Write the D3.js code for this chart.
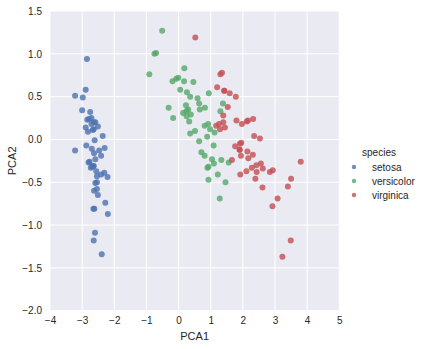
<!DOCTYPE html>
<html>
<head>
<meta charset="utf-8">
<script src="https://cdn.jsdelivr.net/npm/d3@7"></script>
<style>
  html, body { margin: 0; padding: 0; background: #fff; }
  svg { display: block; font-family: "Liberation Sans", Arial, sans-serif; }
</style>
</head>
<body>
<svg id="chart" width="424" height="349"></svg>
<script>
// Iris projected onto its first two principal components.
const species = ["setosa", "versicolor", "virginica"];
const colors = ["#4C72B0", "#55A868", "#C44E52"];

const setosaPCA1 = [-2.68,-2.71,-2.89,-2.75,-2.73,-2.28,-2.82,-2.63,-2.89,-2.67,-2.51,-2.61,-2.79,-3.22,-2.64,-2.39,-2.62,-2.65,-2.20,-2.59,-2.31,-2.54,-3.22,-2.30,-2.36,-2.51,-2.47,-2.56,-2.64,-2.63,-2.59,-2.41,-2.65,-2.60,-2.64,-2.87,-2.63,-2.80,-2.98,-2.59,-2.77,-2.85,-3.00,-2.41,-2.21,-2.71,-2.54,-2.84,-2.54,-2.70];
const setosaPCA2 = [-0.32,0.18,0.14,0.32,-0.33,-0.74,0.09,-0.16,0.58,0.11,-0.65,-0.01,0.24,0.51,-1.18,-1.34,-0.81,-0.31,-0.87,-0.51,-0.39,-0.43,-0.13,-0.10,0.04,0.15,-0.13,-0.37,-0.31,0.20,0.20,-0.41,-0.81,-1.09,0.12,-0.07,-0.60,-0.27,0.49,-0.23,-0.26,0.94,0.34,-0.19,-0.44,0.25,-0.50,0.23,-0.58,-0.11];

const versicolorPCA1 = [1.28,0.93,1.46,0.18,1.09,0.64,1.10,-0.75,1.04,-0.01,-0.51,0.51,0.26,0.98,-0.17,0.93,0.66,0.24,0.94,0.05,1.12,0.36,1.30,0.92,0.71,0.90,1.33,1.56,0.81,-0.31,-0.07,-0.19,0.14,1.38,0.59,0.81,1.22,0.82,0.25,0.17,0.46,0.89,0.23,-0.70,0.36,0.33,0.38,0.64,-0.91,0.30];
const versicolorPCA2 = [-0.69,-0.32,-0.50,0.83,-0.07,0.42,-0.28,1.00,-0.23,0.72,1.27,0.10,0.55,0.12,0.25,-0.47,0.35,0.33,0.54,0.58,0.08,0.07,0.33,0.18,-0.15,-0.33,-0.24,-0.27,0.16,0.37,0.71,0.68,0.31,0.42,0.48,-0.19,-0.41,0.37,0.27,0.68,0.67,0.03,0.40,1.01,0.50,0.21,0.29,-0.02,0.76,0.35];

const virginicaPCA1 = [2.53,1.42,2.62,1.97,2.35,3.40,0.52,2.93,2.32,2.92,1.66,1.80,2.17,1.35,1.59,1.90,1.95,3.49,3.80,1.30,2.43,1.20,3.50,1.39,2.28,2.61,1.26,1.29,2.12,2.39,2.84,3.23,2.16,1.44,1.78,3.08,2.14,1.91,1.17,2.11,2.31,1.92,1.42,2.56,2.42,1.94,1.53,1.76,1.90,1.39];
const virginicaPCA2 = [0.01,0.57,-0.34,0.18,0.04,-0.55,1.19,-0.36,0.24,-0.78,-0.24,0.22,-0.22,0.78,0.54,-0.12,-0.04,-1.18,-0.26,0.76,-0.38,0.61,-0.46,0.20,-0.33,-0.56,0.18,0.12,0.21,-0.46,-0.38,-1.37,0.22,0.14,0.50,-0.69,-0.14,-0.05,0.16,-0.37,-0.18,-0.41,0.57,-0.28,-0.30,-0.19,0.38,-0.08,-0.12,0.28];

const xTicks = [-4, -3, -2, -1, 0, 1, 2, 3, 4, 5];
const yTicks = [-2.0, -1.5, -1.0, -0.5, 0.0, 0.5, 1.0, 1.5];

const groups = [
  { name: species[0], color: colors[0], xs: setosaPCA1, ys: setosaPCA2 },
  { name: species[1], color: colors[1], xs: versicolorPCA1, ys: versicolorPCA2 },
  { name: species[2], color: colors[2], xs: virginicaPCA1, ys: virginicaPCA2 }
];

const svg = d3.select("#chart");
const plot = { left: 50, top: 11, right: 339.3, bottom: 310.7 };

const x = d3.scaleLinear().domain([-4, 5]).range([plot.left, plot.right]);
const y = d3.scaleLinear().domain([-2, 1.5]).range([plot.bottom, plot.top]);

// Axes background
svg.append("rect")
  .attr("x", plot.left).attr("y", plot.top)
  .attr("width", plot.right - plot.left).attr("height", plot.bottom - plot.top)
  .attr("fill", "#EAEAF2");

// White grid lines
const grid = svg.append("g").attr("stroke", "#fff").attr("stroke-width", 1);
grid.selectAll(".gx").data(xTicks).join("line")
  .attr("x1", d => x(d)).attr("x2", d => x(d))
  .attr("y1", plot.top).attr("y2", plot.bottom);
grid.selectAll(".gy").data(yTicks).join("line")
  .attr("y1", d => y(d)).attr("y2", d => y(d))
  .attr("x1", plot.left).attr("x2", plot.right);

const fmtMinus = s => s.replace("-", "\u2212");

// Axes with ticks hidden, labels only
const xAxis = svg.append("g")
  .attr("transform", `translate(0,${plot.bottom})`)
  .call(d3.axisBottom(x).tickValues(xTicks).tickSize(0).tickPadding(6)
    .tickFormat(d => fmtMinus(d3.format("d")(d))));
const yAxis = svg.append("g")
  .attr("transform", `translate(${plot.left},0)`)
  .call(d3.axisLeft(y).tickValues(yTicks).tickSize(0).tickPadding(8)
    .tickFormat(d => fmtMinus(d3.format(".1f")(d))));
[xAxis, yAxis].forEach(a => {
  a.select(".domain").remove();
  a.selectAll("text")
    .attr("fill", "#262626")
    .style("font-size", "10px")
    .style("font-family", "'Liberation Sans', Arial, sans-serif");
});

// Points
groups.forEach(g => {
  svg.append("g").selectAll("circle")
    .data(g.xs.map((v, i) => [v, g.ys[i]]))
    .join("circle")
    .attr("cx", d => x(d[0]))
    .attr("cy", d => y(d[1]))
    .attr("r", 3)
    .attr("fill", g.color)
    .attr("fill-opacity", 0.8);
});

// Axis titles
svg.append("text")
  .attr("x", (plot.left + plot.right) / 2).attr("y", 340)
  .attr("text-anchor", "middle")
  .attr("fill", "#262626").style("font-size", "11px")
  .text("PCA1");
svg.append("text")
  .attr("transform", `translate(16,${(plot.top + plot.bottom) / 2}) rotate(-90)`)
  .attr("text-anchor", "middle")
  .attr("fill", "#262626").style("font-size", "11px")
  .text("PCA2");

// Legend
const legend = svg.append("g");
legend.append("text")
  .attr("x", 379).attr("y", 156)
  .attr("text-anchor", "middle")
  .attr("fill", "#262626").style("font-size", "10px")
  .text("species");
groups.forEach((g, i) => {
  const yy = 167 + i * 14;
  legend.append("circle")
    .attr("cx", 354).attr("cy", yy).attr("r", 2.2)
    .attr("fill", g.color).attr("fill-opacity", 0.8);
  legend.append("text")
    .attr("x", 372).attr("y", yy + 3.5)
    .attr("fill", "#262626").style("font-size", "10px")
    .text(g.name);
});
</script>
</body>
</html>
